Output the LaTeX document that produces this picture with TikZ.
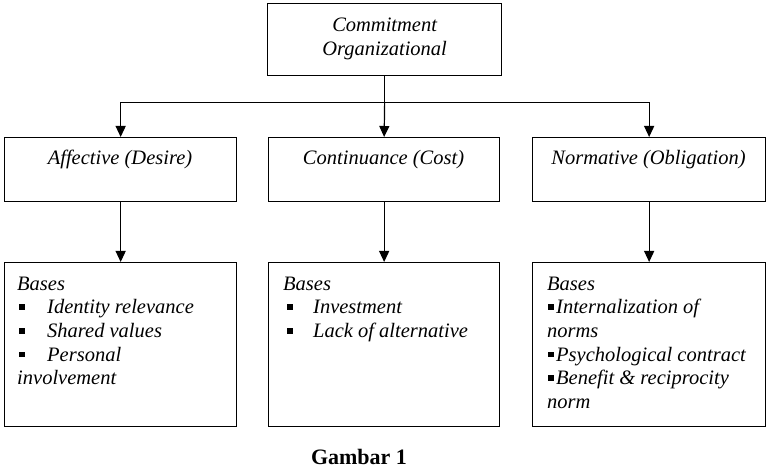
\documentclass[tikz,border=0pt]{standalone}
\usepackage{fontspec}
\setmainfont{Liberation Serif}
\usetikzlibrary{arrows.meta}
\newcommand{\sqbul}{\rule[4pt]{5.5pt}{5.5pt}}
\begin{document}
\begin{tikzpicture}[x=1pt,y=-1pt,
        box/.style={draw,line width=1.3pt,anchor=north west,inner sep=0pt},
        txt/.style={font=\fontsize{20.5}{23.7}\selectfont\itshape,inner sep=0pt},
        ln/.style={line width=1.2pt},
        arr/.style={ln,-{Triangle[length=11pt,width=10pt]}}]
    \useasboundingbox (0,0) rectangle (772,470);
    \node [box,minimum width=234pt,minimum height=72pt] (com) at (267,3) {};
    \node [box,minimum width=232pt,minimum height=64pt] (aff) at (4,137) {};
    \node [box,minimum width=231pt,minimum height=64pt] (con) at (268,137) {};
    \node [box,minimum width=233pt,minimum height=64pt] (nor) at (532,137) {};
    \node [box,minimum width=232pt,minimum height=164pt] (affb) at (4,262) {};
    \node [box,minimum width=231pt,minimum height=164pt] (conb) at (268,262) {};
    \node [box,minimum width=233pt,minimum height=164pt] (norb) at (532,262) {};

    \node [txt,align=center] (comt) at ([yshift=1pt]com.center) {Commitment\\Organizational};
    \node [txt,anchor=base] (afft) at (120,165) {Affective (Desire)};
    \node [txt,anchor=base] (cont) at (383.5,165) {Continuance (Cost)};
    \node [txt,anchor=base] (nort) at (648.5,165) {Normative (Obligation)};

    \node [txt,align=left,anchor=north west] (affl) at (17,276.5) {Bases\\
        \makebox[30pt][l]{\hspace{2pt}\sqbul}Identity relevance\\
        \makebox[30pt][l]{\hspace{2pt}\sqbul}Shared values\\
        \makebox[30pt][l]{\hspace{2pt}\sqbul}Personal\\
        involvement};
    \node [txt,align=left,anchor=north west] (conl) at (283,276.5) {Bases\\
        \makebox[30pt][l]{\hspace{4pt}\sqbul}Investment\\
        \makebox[30pt][l]{\hspace{4pt}\sqbul}Lack of alternative};
    \node [txt,align=left,anchor=north west] (norl) at (547,276.5) {Bases\\
        \makebox[9pt][l]{\hspace{1pt}\sqbul}Internalization of\\
        norms\\
        \makebox[9pt][l]{\hspace{1pt}\sqbul}Psychological contract\\
        \makebox[9pt][l]{\hspace{1pt}\sqbul}Benefit \& reciprocity\\
        norm};

    \node [font=\fontsize{22}{26}\selectfont\bfseries,anchor=base] (cap) at (359,465) {Gambar 1};

    \coordinate (jn) at ([yshift=-26pt]com.south);
    \draw [ln] (com.south) -- (jn);
    \draw [arr] (jn) -| (aff.north);
    \draw [arr] (jn) -- (con.north);
    \draw [arr] (jn) -| (nor.north);
    \draw [arr] (aff.south) -- (affb.north);
    \draw [arr] (con.south) -- (conb.north);
    \draw [arr] (nor.south) -- (norb.north);
\end{tikzpicture}
\end{document}
